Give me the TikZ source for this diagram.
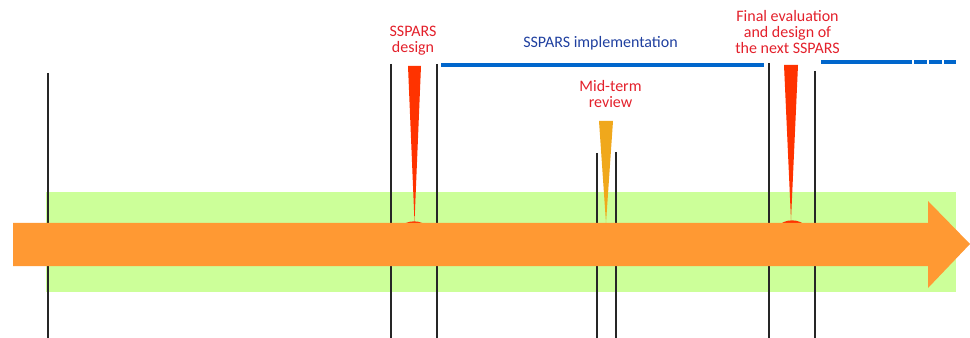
\documentclass[tikz,border=0pt]{standalone}
\usepackage{fontspec}
\setmainfont{Carlito}
\usepackage{tikz}

\definecolor{bandgreen}{HTML}{CCFF99}
\definecolor{arroworange}{HTML}{FF9933}
\definecolor{spikered}{HTML}{FF3300}
\definecolor{spikeorange}{HTML}{F0A81C}
\definecolor{planblue}{HTML}{0066CC}
\definecolor{labelred}{HTML}{E3202B}
\definecolor{labelblue}{HTML}{1F3F9F}

\begin{document}
\begin{tikzpicture}[x=0.75pt,y=-0.75pt]
\useasboundingbox (0,0) rectangle (970,338);

%Band
\fill[bandgreen] (46,192) rectangle (956,292);

\begin{scope}
	%Line ends
	\coordinate (start_t) at (48, 73);
	\coordinate (start_b) at (48, 338);
	
	\coordinate (d_1t) at (391, 64);
	\coordinate (d_1b) at (391, 338);
	\coordinate (d_2t) at (437, 64);
	\coordinate (d_2b) at (437, 338);
	
	\coordinate (m_1t) at (597, 153);
	\coordinate (m_1b) at (597, 338);
	\coordinate (m_2t) at (616, 152);
	\coordinate (m_2b) at (616, 338);
	
	\coordinate (f_1t) at (769, 63);
	\coordinate (f_1b) at (769, 338);
	\coordinate (f_2t) at (815, 71);
	\coordinate (f_2b) at (815, 338);
\end{scope}

\begin{scope}[style={line width=1.1pt,draw=black!85}]
	\path [-] (start_t) edge (start_b);
	\path [-] (d_1t) edge (d_1b);
	\path [-] (d_2t) edge (d_2b);
	\path [-] (m_1t) edge (m_1b);
	\path [-] (m_2t) edge (m_2b);
	\path [-] (f_1t) edge (f_1b);
	\path [-] (f_2t) edge (f_2b);
\end{scope}

%Spikes
\fill[spikered] (414,242) circle[radius=15.5pt];
\fill[spikered] (792,241) circle[radius=15.5pt];
\fill[spikered] (408,66) -- (421,66) -- (414.5,222) -- cycle;
\fill[spikeorange] (599,121) -- (613,121) -- (606,223) -- cycle;
\fill[spikered] (784,65) -- (798,65) -- (791,220) -- cycle;

%Arrow
\fill[arroworange] (13,223) -- (928,223) -- (928,201) -- (970,244)
	-- (928,288) -- (928,266) -- (13,266) -- cycle;

%Plan
\begin{scope}[style={line width=3pt,draw=planblue}]
	\coordinate (p_1a) at (441, 65);
	\coordinate (p_1b) at (764, 65);
	\coordinate (p_2a) at (821, 62);
	\coordinate (p_2b) at (912, 62);
	\path [-] (p_1a) edge (p_1b);
	\path [-] (p_2a) edge (p_2b);
	\foreach \a/\b in {914/927, 929/942, 944/956}
		\path [-] (\a, 62) edge (\b, 62);
\end{scope}

\begin{scope}[every node/.style={align=center,inner sep=0pt,font=\fontsize{12}{12}\selectfont}]
	\node[text=labelred] (design) at (413, 41) {SSPARS\\design};
	\node[text=labelblue] (implementation) at (600.5, 43) {SSPARS implementation};
	\node[text=labelred] (midterm) at (610.5, 94) {Mid-term\\review};
	\node[text=labelred] (final) at (787.5, 32) {Final evaluation\\and design of\\the next SSPARS};
\end{scope}

\end{tikzpicture}
\end{document}
